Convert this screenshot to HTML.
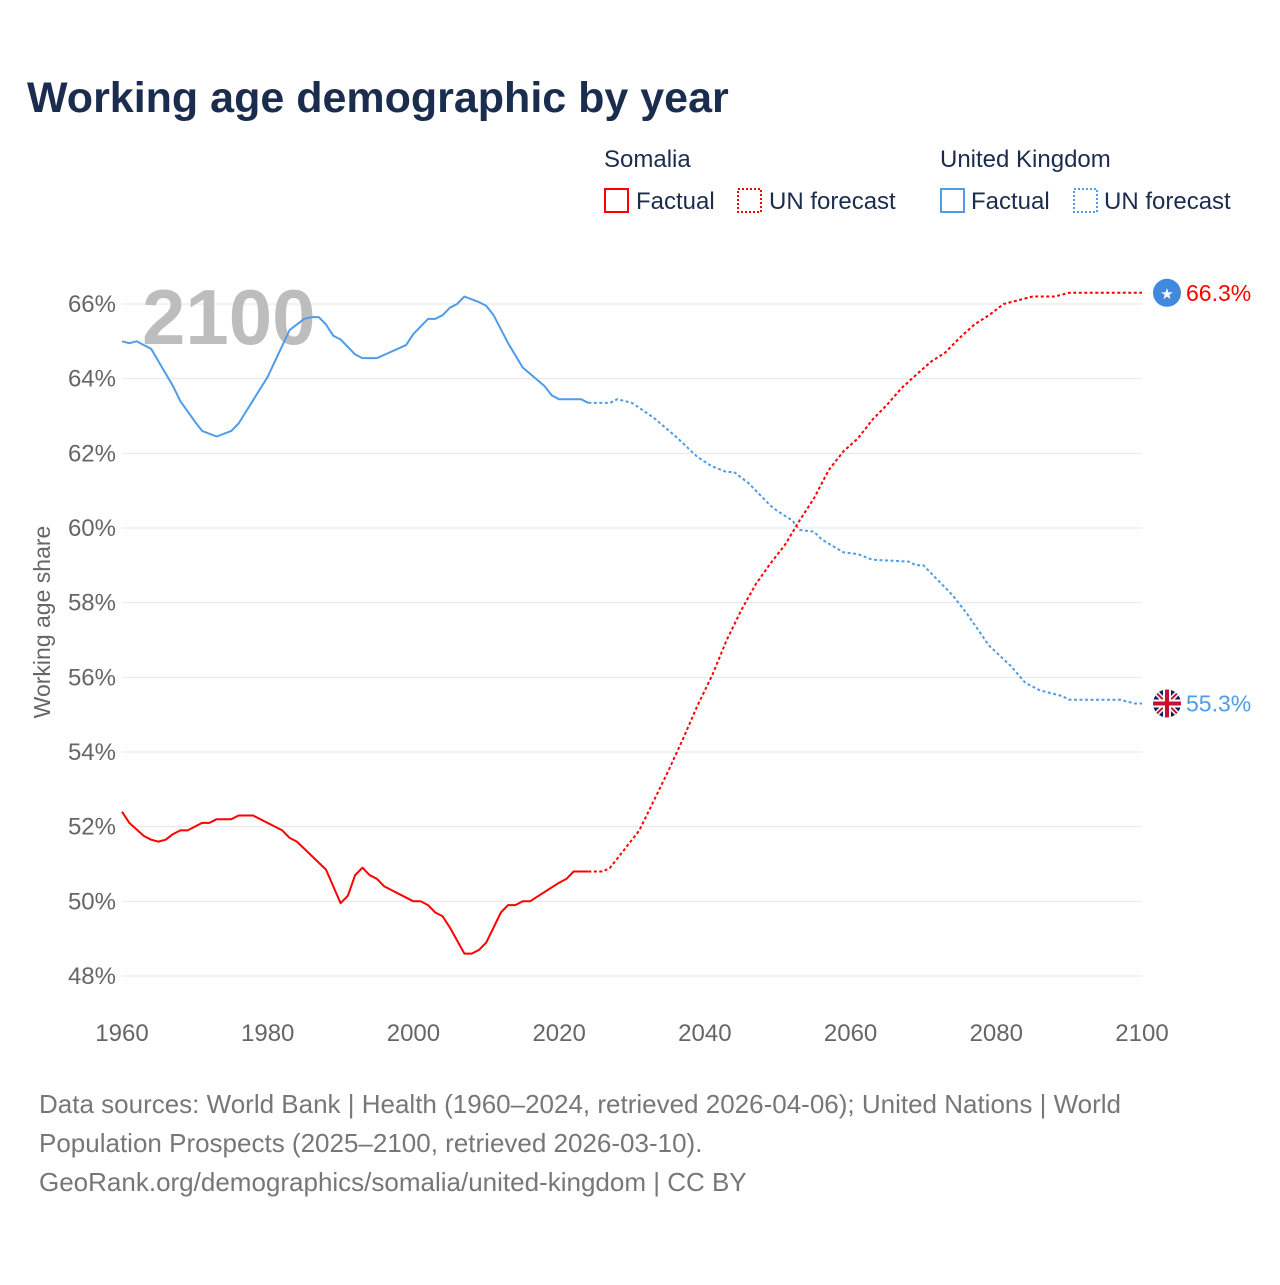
<!DOCTYPE html>
<html><head><meta charset="utf-8"><style>
body{margin:0;background:#fff;font-family:"Liberation Sans",sans-serif}
svg text{font-family:"Liberation Sans",sans-serif}
</style></head><body>
<svg id="c" width="1280" height="1280" viewBox="0 0 1280 1280">
<text x="27" y="112" font-size="43" font-weight="bold" fill="#1b2d4f">Working age demographic by year</text>
<g>
<text x="604" y="167" font-size="24" fill="#1b2d4f">Somalia</text>
<rect x="605" y="189" width="23" height="23" fill="none" stroke="#f00" stroke-width="2"/>
<text x="636" y="209" font-size="24" fill="#1b2d4f">Factual</text>
<rect x="738" y="189" width="23" height="23" fill="none" stroke="#f00" stroke-width="2" stroke-dasharray="2,2"/>
<text x="769" y="209" font-size="24" fill="#1b2d4f">UN forecast</text>
<text x="940" y="167" font-size="24" fill="#1b2d4f">United Kingdom</text>
<rect x="941" y="189" width="23" height="23" fill="none" stroke="#4f9ce8" stroke-width="2"/>
<text x="971" y="209" font-size="24" fill="#1b2d4f">Factual</text>
<rect x="1074" y="189" width="23" height="23" fill="none" stroke="#4f9ce8" stroke-width="2" stroke-dasharray="2,2"/>
<text x="1104" y="209" font-size="24" fill="#1b2d4f">UN forecast</text>
</g>
<g id="grid"></g>
<text x="142" y="344" font-size="78" font-weight="bold" fill="#bdbdbd">2100</text>
<text transform="translate(50,622) rotate(-90)" text-anchor="middle" font-size="23" fill="#666">Working age share</text>
<g id="series"></g>
<g font-size="26" fill="#777">
<text x="39" y="1113">Data sources: World Bank | Health (1960–2024, retrieved 2026-04-06); United Nations | World</text>
<text x="39" y="1152">Population Prospects (2025–2100, retrieved 2026-03-10).</text>
<text x="39" y="1191">GeoRank.org/demographics/somalia/united-kingdom | CC BY</text>
</g>
</svg>
<script>
const yTicks=[48,50,52,54,56,58,60,62,64,66];
const xTicks=[1960,1980,2000,2020,2040,2060,2080,2100];
const somYears=[1960,1961,1963,1964,1965,1966,1967,1968,1969,1971,1972,1973,1975,1976,1978,1982,1983,1984,1988,1990,1991,1992,1993,1994,1995,1996,2000,2001,2002,2003,2004,2005,2006,2007,2008,2009,2010,2012,2013,2014,2015,2016,2020,2021,2022,2024];
const somVals=[52.4,52.1,51.75,51.65,51.6,51.65,51.8,51.9,51.9,52.1,52.1,52.2,52.2,52.3,52.3,51.9,51.7,51.6,50.85,49.95,50.15,50.7,50.9,50.7,50.6,50.4,50.0,50.0,49.9,49.7,49.6,49.3,48.95,48.6,48.6,48.7,48.9,49.7,49.9,49.9,50.0,50.0,50.5,50.6,50.8,50.8];
const somFYears=[2024,2026,2027,2029,2031,2033,2035,2037,2039,2041,2043,2045,2047,2049,2051,2053,2055,2057,2059,2061,2063,2065,2067,2069,2071,2073,2075,2077,2079,2081,2083,2085,2088,2090,2100];
const somFVals=[50.8,50.8,50.9,51.4,51.9,52.7,53.5,54.35,55.25,56.05,57.0,57.8,58.5,59.05,59.55,60.2,60.8,61.55,62.05,62.4,62.9,63.3,63.75,64.1,64.45,64.7,65.1,65.45,65.7,66.0,66.1,66.2,66.2,66.3,66.3];
const ukYears=[1960,1961,1962,1963,1964,1967,1968,1970,1971,1973,1975,1976,1980,1983,1985,1986,1987,1988,1989,1990,1992,1993,1995,1999,2000,2002,2003,2004,2005,2006,2007,2009,2010,2011,2013,2015,2018,2019,2020,2023,2024];
const ukVals=[65.0,64.95,65.0,64.9,64.8,63.8,63.4,62.85,62.6,62.45,62.6,62.8,64.05,65.3,65.6,65.65,65.65,65.45,65.15,65.05,64.65,64.55,64.55,64.9,65.2,65.6,65.6,65.7,65.9,66.0,66.2,66.05,65.95,65.7,64.95,64.3,63.8,63.55,63.45,63.45,63.35];
const ukFYears=[2024,2027,2028,2030,2033,2036,2039,2041,2043,2044,2046,2049,2050,2052,2053,2055,2056,2059,2061,2063,2068,2069,2070,2072,2074,2076,2079,2082,2084,2086,2089,2090,2097,2099,2100];
const ukFVals=[63.35,63.35,63.45,63.35,62.95,62.45,61.9,61.65,61.5,61.5,61.2,60.6,60.45,60.2,59.95,59.9,59.7,59.35,59.3,59.15,59.1,59.0,59.0,58.6,58.2,57.7,56.85,56.3,55.85,55.65,55.5,55.4,55.4,55.3,55.3];
const X=y=>122+(y-1960)*1020/140;
const Y=v=>304+(66-v)*672/18;
const NS="http://www.w3.org/2000/svg";
function mk(t,a,p){const e=document.createElementNS(NS,t);for(const k in a)e.setAttribute(k,a[k]);p.appendChild(e);return e;}
const grid=document.getElementById('grid');
yTicks.forEach(v=>{
 const l=mk('line',{x1:122,x2:1142,y1:Y(v),y2:Y(v),stroke:'#e6e6e6','stroke-width':1},grid);
 
 
 const t=mk('text',{x:116,y:Y(v)+8,'text-anchor':'end','font-size':24,fill:'#666'},grid);
 t.textContent=v+'%';
 
 
});
xTicks.forEach(y=>{
 const t=mk('text',{x:X(y),y:1041,'text-anchor':'middle','font-size':24,fill:'#666'},grid);
 t.textContent=y;
 
 
});
const s=document.getElementById('series');
function line(ys,vs,col,dash,name){
 const d=ys.map((y,i)=>(i?'L':'M')+X(y).toFixed(1)+','+Y(vs[i]).toFixed(1)).join('');
 const p=mk('path',{d:d,fill:'none',stroke:col,'stroke-width':2,'stroke-linejoin':'round'},s);
 if(dash)p.setAttribute('stroke-dasharray','3,2.5');
 
 
}
line(ukYears,ukVals,'#4f9ce8',false,'uk-factual-line');
line(ukFYears,ukFVals,'#4f9ce8',true,'uk-forecast-line');
line(somYears,somVals,'#f00',false,'somalia-factual-line');
line(somFYears,somFVals,'#f00',true,'somalia-forecast-line');
const mx=1167;
const sv=somFVals[somFVals.length-1], uv=ukFVals[ukFVals.length-1];
const c1=mk('circle',{cx:mx,cy:Y(sv),r:14,fill:'#4189dd'},s);


const st=mk('text',{x:mx,y:Y(sv)+6,'text-anchor':'middle','font-size':15,fill:'#fff'},s);st.textContent='★';


const g=mk('g',{},s);


const cy=Y(uv);
mk('clipPath',{id:'cc'},g).appendChild(document.createElementNS(NS,'circle'));
const cc=g.querySelector('clipPath circle');cc.setAttribute('cx',mx);cc.setAttribute('cy',cy);cc.setAttribute('r',14);
const gg=mk('g',{'clip-path':'url(#cc)'},g);
mk('rect',{x:mx-14,y:cy-14,width:28,height:28,fill:'#012169'},gg);
mk('path',{d:`M${mx-14},${cy-14}L${mx+14},${cy+14}M${mx+14},${cy-14}L${mx-14},${cy+14}`,stroke:'#fff','stroke-width':5},gg);
mk('path',{d:`M${mx-14},${cy-14}L${mx+14},${cy+14}M${mx+14},${cy-14}L${mx-14},${cy+14}`,stroke:'#c8102e','stroke-width':2},gg);
mk('path',{d:`M${mx},${cy-14}V${cy+14}M${mx-14},${cy}H${mx+14}`,stroke:'#fff','stroke-width':8},gg);
mk('path',{d:`M${mx},${cy-14}V${cy+14}M${mx-14},${cy}H${mx+14}`,stroke:'#c8102e','stroke-width':4},gg);
const l1=mk('text',{x:1186,y:Y(sv)+8,'font-size':23,fill:'#f00'},s);l1.textContent=sv.toFixed(1)+'%';


const l2=mk('text',{x:1186,y:cy+8,'font-size':23,fill:'#4f9ce8'},s);l2.textContent=uv.toFixed(1)+'%';


</script>
</body></html>
